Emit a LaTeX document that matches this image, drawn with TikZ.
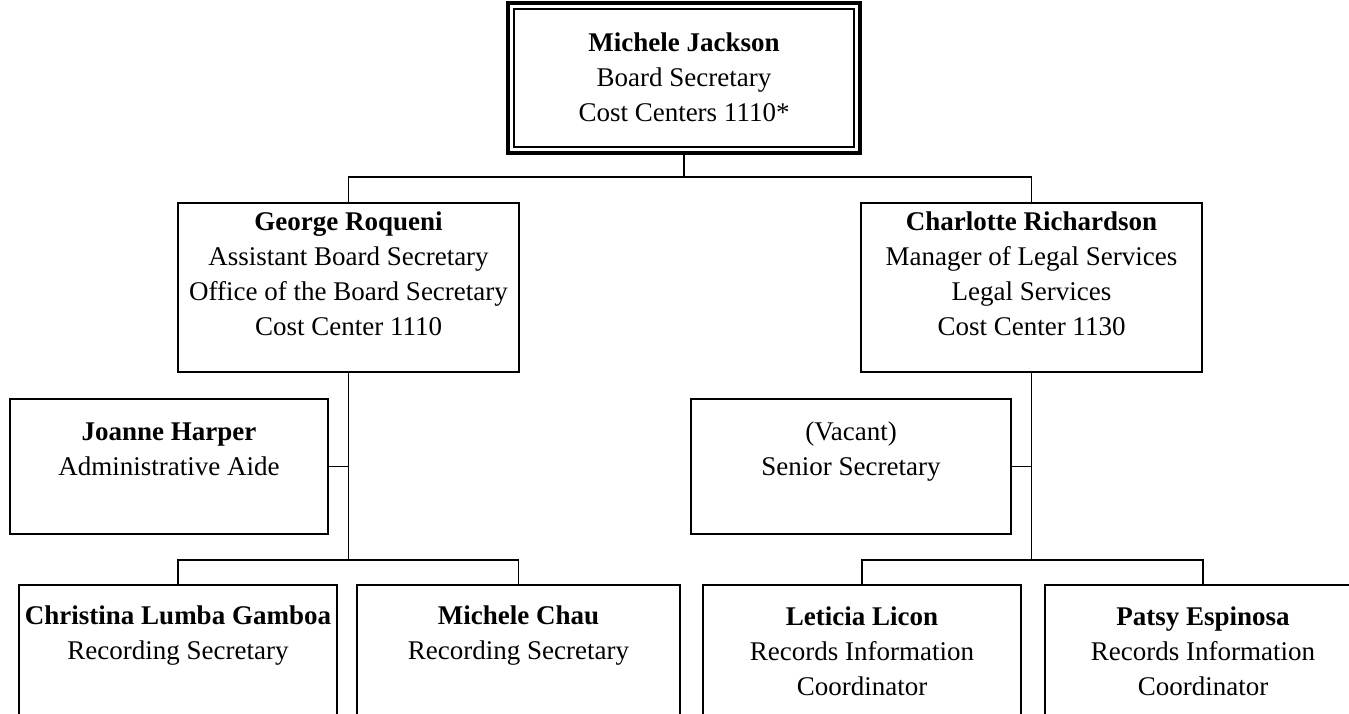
\documentclass[tikz,border=0pt]{standalone}
\usepackage{fontspec}
\setmainfont{Liberation Serif}
\begin{document}
\begin{tikzpicture}[x=1pt,y=-1pt,
  box/.style={draw, line width=1.8pt, rectangle, inner sep=0pt, outer sep=0pt, anchor=north west},
  txt/.style={align=center, font=\fontsize{27}{35}\selectfont, inner sep=0pt},
  conn/.style={line width=1.8pt}]
\useasboundingbox (0,0) rectangle (1349,713);
\clip (0,0) rectangle (1349,713);
% boxes
\node[draw, line width=3.5pt, rectangle, inner sep=0pt, outer sep=0pt, anchor=north west,
      minimum width=352pt, minimum height=150pt] (top) at (508,3) {};
\draw[line width=1.2pt] ([shift={(6,6)}]top.north west) rectangle ([shift={(-6,-6)}]top.south east);
\node[box, minimum width=341pt, minimum height=169pt] (geo) at (178,203) {};
\node[box, minimum width=341pt, minimum height=169pt] (cha) at (861,203) {};
\node[box, minimum width=318pt, minimum height=135pt] (joa) at (10,399) {};
\node[box, minimum width=320pt, minimum height=135pt] (vac) at (691,399) {};
\node[box, minimum width=318pt, minimum height=180pt] (chr) at (19,585) {};
\node[box, minimum width=323pt, minimum height=180pt] (mch) at (357,585) {};
\node[box, minimum width=318pt, minimum height=180pt] (let) at (703,585) {};
\node[box, minimum width=316pt, minimum height=180pt] (pat) at (1045,585) {};
% texts
\node[txt] (topt) at (684,77) {\textbf{Michele Jackson}\\Board Secretary\\Cost Centers 1110*};
\node[txt] (geot) at (348.5,274) {\textbf{George Roqueni}\\Assistant Board Secretary\\Office of the Board Secretary\\Cost Center 1110};
\node[txt] (chat) at (1031.5,274) {\textbf{Charlotte Richardson}\\Manager of Legal Services\\Legal Services\\Cost Center 1130};
\node[txt] (joat) at (169,449.5) {\textbf{Joanne Harper}\\Administrative Aide};
\node[txt] (vact) at (851,451.5) {(Vacant)\\Senior Secretary};
\node[txt] (chrt) at (178,636) {\textbf{Christina Lumba Gamboa}\\Recording Secretary};
\node[txt] (mcht) at (518.5,636) {\textbf{Michele Chau}\\Recording Secretary};
\node[txt] (lett) at (862,651) {\textbf{Leticia Licon}\\Records Information\\Coordinator};
\node[txt] (patt) at (1203,651) {\textbf{Patsy Espinosa}\\Records Information\\Coordinator};
% bus coordinates
\coordinate (bus0) at (top.south |- 0,177);
\coordinate (busL) at (geo.south |- 0,560);
\coordinate (busR) at (cha.south |- 0,560);
% connectors
\draw[conn] (top.south) -- (bus0);
\draw[conn] (geo.north) |- (bus0) -| (cha.north);
\draw[conn] (geo.south) -- (busL);
\draw[conn] (cha.south) -- (busR);
\draw[conn] (joa.east) -- (joa.east -| geo.south);
\draw[conn] (vac.east) -- (vac.east -| cha.south);
\draw[conn] (chr.north) |- (busL) -| (mch.north);
\draw[conn] (let.north) |- (busR) -| (pat.north);
\end{tikzpicture}
\end{document}
